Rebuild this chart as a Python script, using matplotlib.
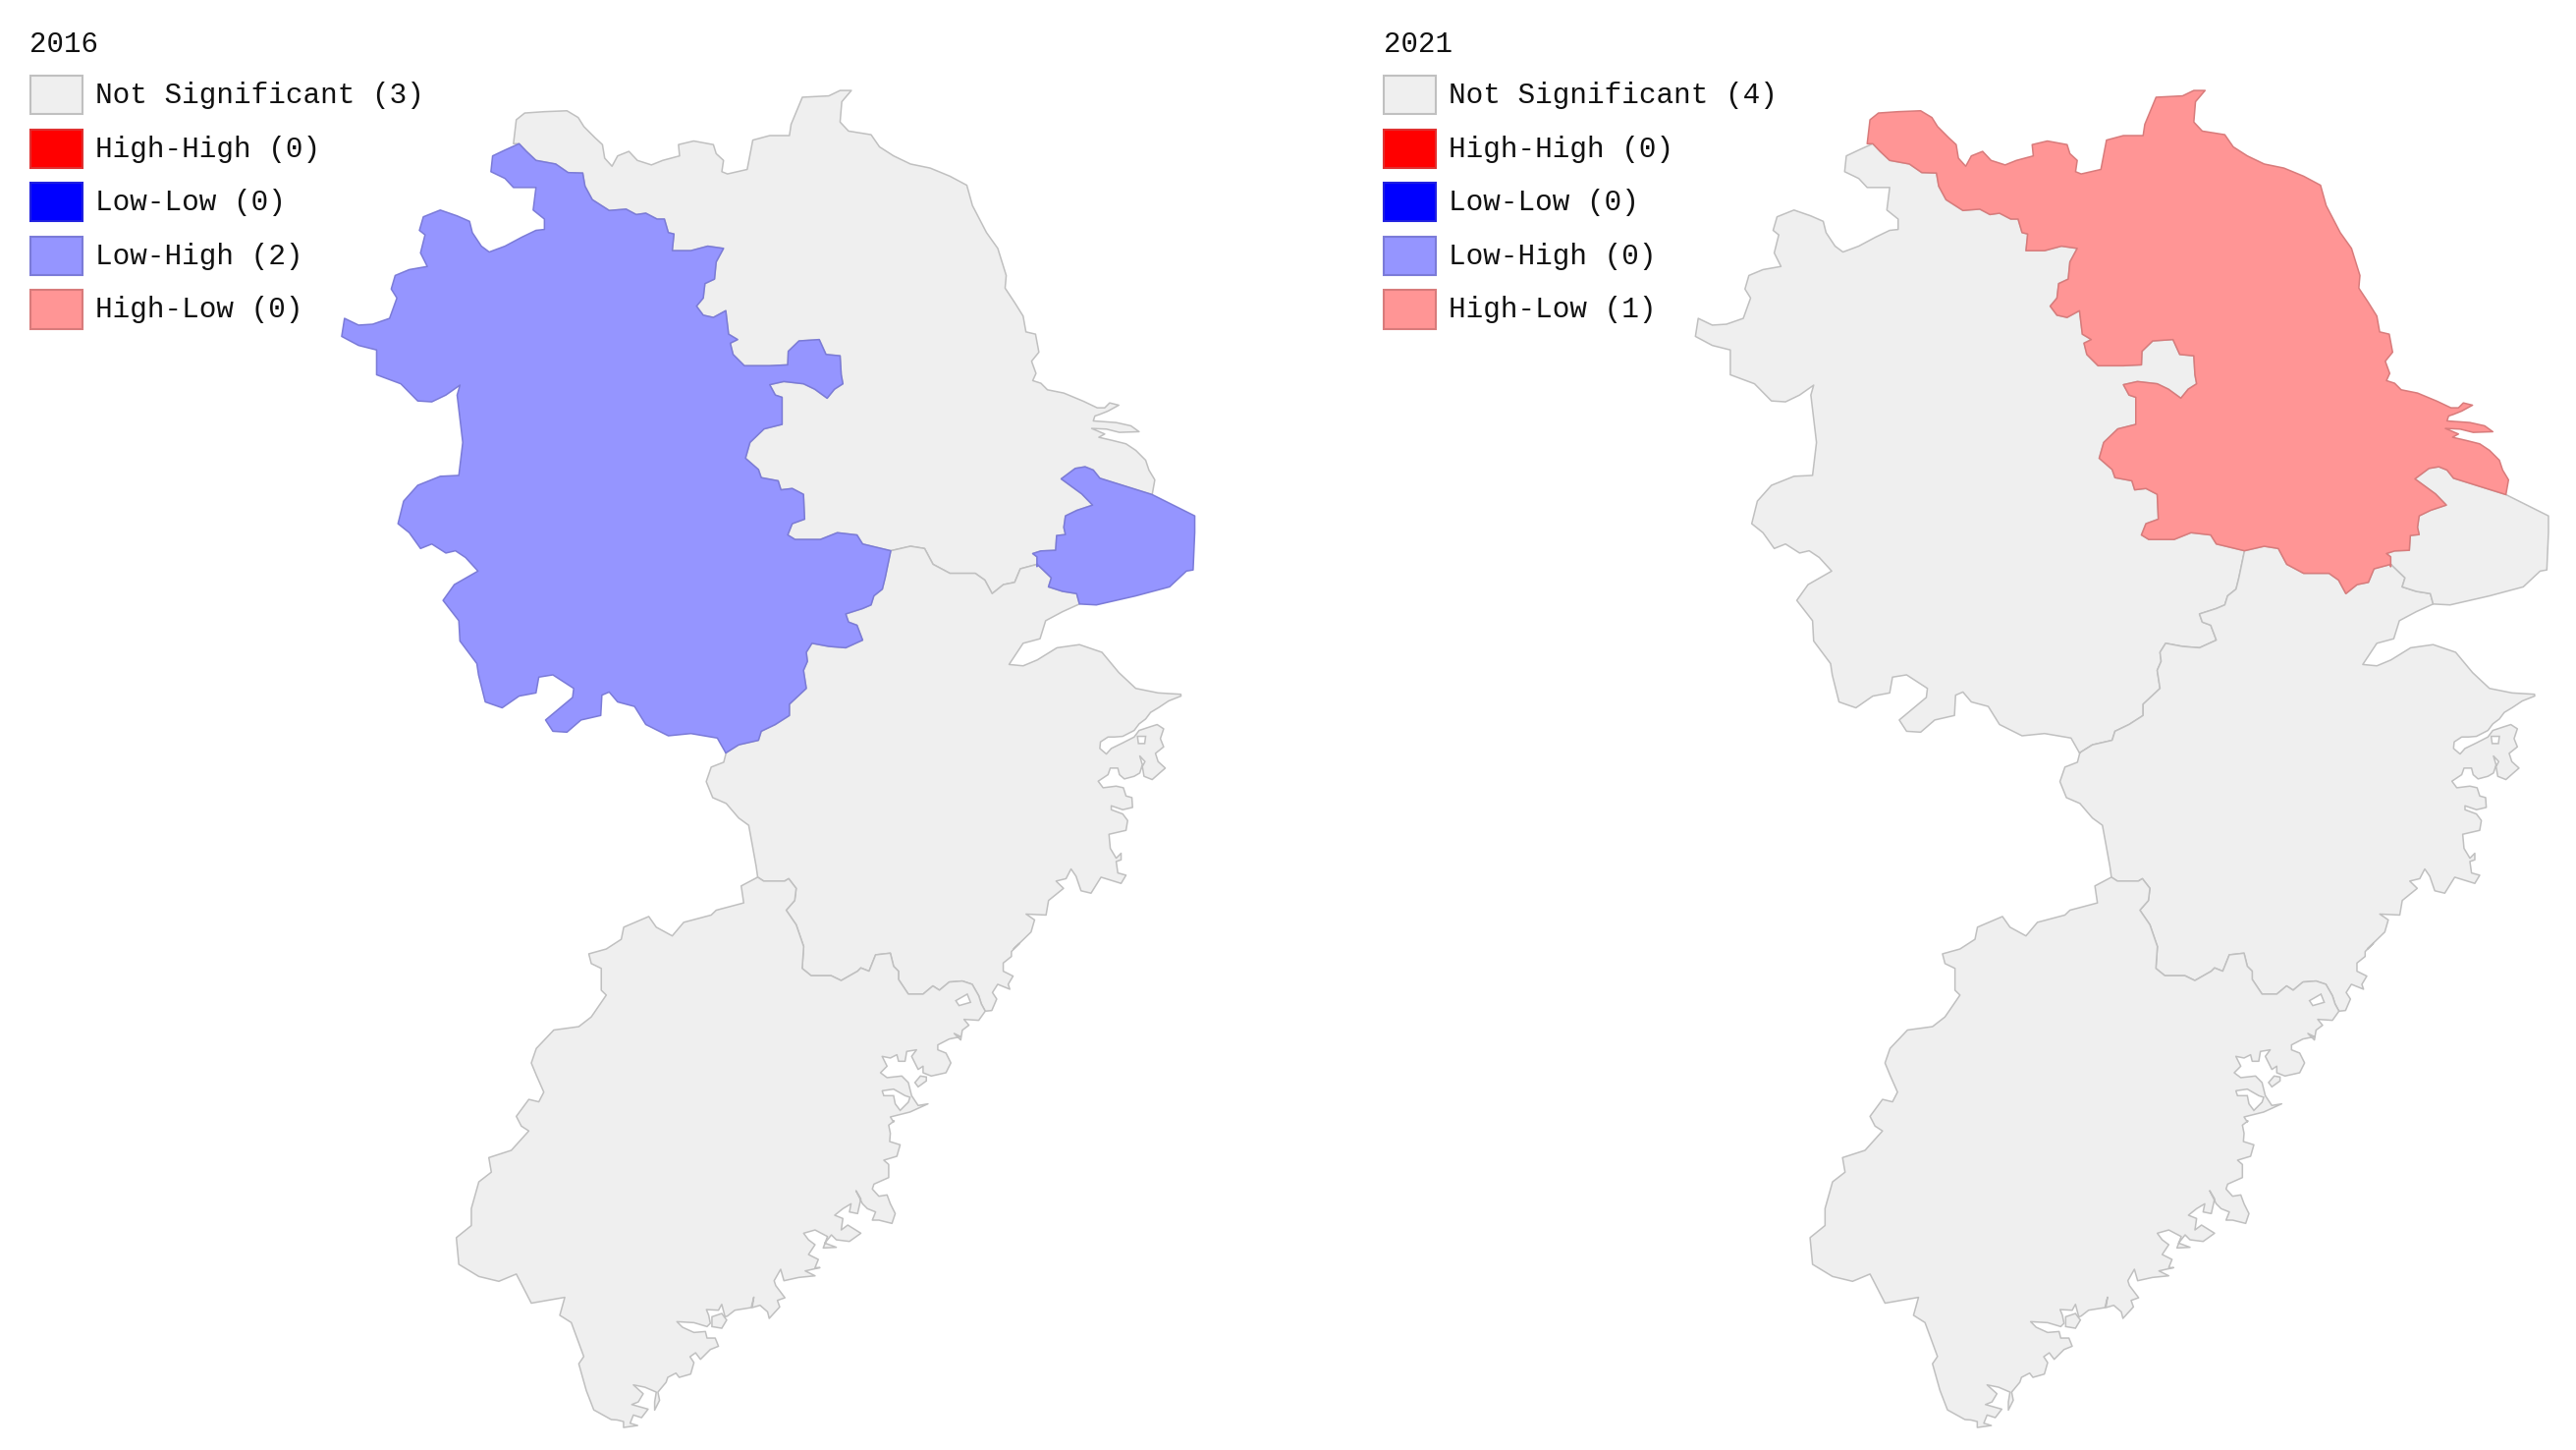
import matplotlib
matplotlib.use('Agg')
import matplotlib.pyplot as plt
from matplotlib.patches import Polygon, Rectangle
import numpy as np

# LISA cluster maps, 2016 vs 2021, province outlines traced by hand
categories = ['Not Significant', 'High-High', 'Low-Low', 'Low-High', 'High-Low']
fills = ['#efefef', '#ff0000', '#0000ff', '#9595ff', '#ff9595']
edges = ['#c0c0c0', '#e03030', '#2020e0', '#7b7bd8', '#d87b7b']
years = ['2016', '2021']
counts_2016 = [3, 0, 0, 2, 0]
counts_2021 = [4, 0, 0, 0, 1]
cluster_2016 = {'Jiangsu': 0, 'Zhejiang': 0, 'Fujian': 0, 'Anhui': 3, 'Shanghai': 3}
cluster_2021 = {'Anhui': 0, 'Zhejiang': 0, 'Fujian': 0, 'Shanghai': 0, 'Jiangsu': 4}

ah_js_border = [(345,168),(358,185),(375,205),(410,213),(432,232),(458,233),(462,262),(475,292),(505,316),(535,313),(553,325),(570,322),(590,335),(603,335),(610,365),(620,368),(617,405),(650,405),(680,395),(708,400),(695,430),(692,468),(675,478),(672,510),(660,528),(672,548),(690,553),(712,538),(717,590),(733,602),(720,610),(725,635),(745,660),(790,660),(822,658),(823,628),(842,605),(878,602),(890,635),(915,638),(917,680),(920,700),(905,712),(892,732),(870,712),(850,700),(815,695),(790,702),(800,725),(812,730),(812,790),(780,800),(755,830),(747,865),(770,890),(775,908),(805,915),(810,935),(830,932),(850,945),(852,1000),(830,1010),(822,1035),(835,1045),(880,1045),(910,1030),(945,1035),(955,1055),(1005,1070)]
ah_zj_border = [(1005,1070),(995,1130),(990,1155),(975,1170),(970,1190),(955,1198),(925,1210),(930,1228),(945,1235),(955,1268),(925,1285),(895,1282),(865,1275),(855,1295),(857,1315),(850,1335),(855,1375),(825,1410),(825,1435),(800,1455),(775,1470),(770,1490),(735,1500),(712,1518)]
ah_west = [(697,1485),(650,1475),(610,1480),(570,1455),(550,1415),(520,1405),(505,1383),(492,1390),(490,1435),(455,1445),(430,1472),(405,1470),(392,1445),(440,1395),(442,1375),(405,1345),(380,1350),(375,1385),(345,1392),(315,1418),(285,1405),(273,1345),(270,1320),(240,1270),(238,1225),(210,1180),(230,1145),(272,1115),(250,1085),(232,1070),(215,1075),(190,1055),(170,1065),(150,1030),(130,1010),(140,960),(165,925),(205,905),(238,903),(245,830),(235,725),(240,703),(215,725),(190,740),(165,738),(135,700),(92,680),(92,625),(60,615),(30,595),(35,555),(60,570),(85,568),(115,555),(128,510),(118,490),(125,460),(150,447),(182,440),(170,410),(178,370),(168,360),(175,330),(205,315),(235,328),(257,340),(262,365),(278,395),(292,408),(320,395),(350,375),(375,360),(390,358),(390,335),(370,315),(375,265),(335,265),(320,245),(295,230),(298,195),(320,182)]
js_coast = [(335,168),(340,115),(355,100),(390,97),(430,95),(450,110),(460,130),(480,155),(493,170),(497,200),(510,218),(520,195),(540,185),(555,205),(580,215),(600,205),(630,195),(628,170),(655,162),(690,170),(695,190),(708,205),(705,230),(715,235),(750,225),(760,160),(790,150),(825,150),(828,125),(848,65),(895,62),(915,50),(935,50),(918,75),(915,120),(930,140),(970,148),(985,175),(1010,195),(1040,213),(1075,222),(1110,240),(1140,260),(1150,305),(1175,365),(1195,400),(1210,460),(1208,488),(1225,520),(1240,550),(1245,585),(1262,590),(1268,630),(1255,650)]
js_yangtze = [(45,0),(35,22),(60,30),(80,50),(130,60),(190,85),(232,105),(255,105),(270,90),(298,97),(265,115),(240,125),(225,130),(220,145),(290,150),(335,160),(360,178),(300,180),(260,170),(215,168),(255,185),(237,195),(280,205),(320,215),(350,235),(380,265),(390,295),(408,325),(400,370)]
js_sh_border = [(400,370),(240,320),(220,295),(195,285),(165,290),(122,322),(185,368),(218,402),(170,418),(135,435),(130,470),(135,492),(108,495),(105,540),(60,542),(35,550),(48,560),(48,590)]
sh_east = [(400,370),(530,435),(530,485),(525,600)]
js_zj_border = [(1265,1100),(1235,1110),(1225,1140),(1205,1145),(1185,1165),(1172,1135),(1155,1120),(1110,1120),(1080,1100),(1065,1065),(1040,1060),(1005,1070)]
sh_zj_border = [(1265,1100),(1290,1130),(1285,1150),(1310,1160),(1335,1165),(1340,1188)]
sh_coast = [(1340,1188),(1370,1190),(1440,1170),(1500,1150),(1530,1115)]
zj_bay = [(1340,1188),(1310,1205),(1280,1225),(1270,1265),(1240,1275),(1215,1322),(1240,1325),(1265,1312),(1300,1285),(1340,1278),(1380,1295),(1410,1340),(1440,1375),(1480,1385),(1520,1388)]

zj_ningbo = [(608,85),(570,100),(540,120),(515,135),(500,155),(480,170),(465,190),(430,208),(405,210),(385,210),(362,225),(360,245),(380,262),(395,245),(430,228),(465,210),(480,190),(510,180),(535,172),(555,185),(545,215),(555,240),(530,260),(538,285),(560,305),(545,318),(520,340),(495,330),(490,300),(498,285),(482,268),(490,295),(482,320),(465,330),(435,338),(420,325),(415,305),(392,305),(385,325),(355,345),(370,365),(410,360),(432,365),(440,390),(458,395),(460,425),(430,432),(395,420),(395,432),(430,445),(445,465),(440,495),(388,507),(392,550),(410,580),(425,565),(425,585),(410,590),(415,625),(440,632),(425,657)]
zj_coast_mid = [(1355,392),(1335,425),(1315,420),(1305,390),(1295,375),(1285,395),(1265,400),(1280,415),(1250,440),(1245,470),(1205,468),(1222,480),(1215,505),(1180,540)]
zj_wenzhou = [(535,0),(510,25),(510,40),(485,60),(485,85),(515,100),(500,125),(505,140),(468,125),(452,150),(465,170),(450,205),(430,207)]
zj_west = [(605,135),(600,155),(575,165),(565,195),(578,228),(605,240),(630,270),(650,285),(658,330),(665,370),(668,392)]
zj_fj_border = [(668,392),(680,400),(722,400),(730,395),(745,415),(742,440),(725,460),(745,490),(760,535),(757,580),(775,595),(815,595),(835,605)]
zj_fj_border_east = [(40,85),(50,75),(75,85),(95,35),(140,30),(150,70),(165,85),(165,110),(195,155),(240,155),(270,130),(290,143),(320,118),(360,115),(390,125),(410,160),(418,185),(430,207)]

fj_ningde = [(430,207),(410,235),(365,232),(380,250),(360,265),(355,295),(335,275),(355,285),(320,292),(285,310),(285,325),(310,335),(325,365),(310,395),(265,405),(240,395),(240,375),(225,385),(205,345),(220,325),(190,330),(185,360),(165,360),(160,340),(140,350),(115,345),(130,375),(110,395),(130,410),(175,405),(195,425),(205,465),(225,495),(255,490),(200,515),(140,530),(150,545)]
fj_fuzhou = [(392,32),(375,45),(380,70),(378,95),(410,105),(400,140),(360,152),(375,165),(375,205),(330,225),(325,240),(345,262),(370,258),(380,285),(395,315),(385,345),(365,340),(345,335),(325,335),(335,310),(310,300),(295,285),(275,245),(290,270),(280,315),(255,310),(260,285),(235,300),(210,320),(235,330),(230,365),(250,350),(290,375),(255,400),(215,395),(200,380),(180,405),(215,418),(175,420),(188,385),(150,365),(115,375),(130,395),(150,410),(130,440),(160,455),(150,480),(165,480),(120,490),(150,505),(100,510),(55,520),(45,485),(25,520),(30,535)]
fj_xiamen = [(538,92),(515,100),(522,120),(490,155),(485,135),(462,115),(438,122),(443,90),(435,122),(385,130),(362,148),(355,150),(345,112),(335,130),(298,128),(305,145),(310,170),(300,180),(260,168),(208,165),(225,182),(260,198),(295,195),(300,215),(325,215),(335,240),(310,250),(280,280),(265,260),(248,272),(260,290),(250,325),(215,335),(205,322),(180,335),(175,350),(150,380),(155,405),(140,435),(140,410),(145,380),(110,365),(75,358),(105,385),(90,410),(70,418),(120,432),(100,458),(75,450),(65,475),(88,482),(45,488),(45,470),(25,465)]
fj_west = [(375,1510),(340,1490),(325,1450),(310,1395),(320,1380),(295,1310),(272,1295),(282,1258),(215,1270),(185,1210),(150,1225),(110,1215),(70,1190),(65,1135),(95,1110),(95,1075),(110,1020),(135,1000),(130,970),(175,955),(210,915),(195,905),(185,885),(210,850),(230,855),(240,835),(225,800),(215,775),(225,745),(260,707),(310,700),(335,680),(365,635),(355,625),(355,580),(335,570),(330,550),(365,540),(395,520),(400,495),(450,473),(465,495),(497,513),(520,485),(575,470),(585,460),(640,445),(635,410)]

# little white inlets on the coast, and islands
zj_hole = [(475,208),(500,208),(497,230),(478,230)]
zj_inlet = [(340,175),(375,155),(385,180),(350,190)]
fj_inlet = [(115,450),(150,445),(185,465),(200,470),(195,485),(170,510),(155,490),(150,465),(120,465)]
fj_island = [(250,408),(232,405),(215,425),(225,438),(250,420)]
fj_islet = [(315,150),(345,140),(360,160),(345,185),(315,180)]


def north(pts):
    a = np.array(pts, dtype=float)
    return np.column_stack([197.7 + a[:, 0] * 0.3428, 41.3 + a[:, 1] * 0.2745])


def south(pts):
    a = np.array(pts, dtype=float)
    return np.column_stack([258 + a[:, 0] * 0.3042, 417.9 + a[:, 1] * 0.2951])


def crop(pts, x0, y0):
    a = np.array(pts, dtype=float)
    return np.column_stack([(x0 + a[:, 0] / 3) / 1.673, (y0 + a[:, 1] / 3) / 1.673])


ningbo = (1000, 680)
ningde = (860, 960)
yangtze = (1040, 380)
fuzhou = (780, 1130)
xiamen = (620, 1290)

js_sh = crop(js_sh_border, *yangtze)
regions = {
    'Anhui': np.vstack([north(ah_js_border), north(ah_zj_border), north(ah_west)]),
    'Jiangsu': np.vstack([north(js_coast), crop(js_yangtze, *yangtze), js_sh, north(js_zj_border), north(ah_js_border)[::-1]]),
    'Shanghai': np.vstack([js_sh, north(sh_zj_border), north(sh_coast), crop(sh_east, *yangtze)[::-1]]),
    'Zhejiang': np.vstack([north(js_zj_border)[::-1], north(sh_zj_border), north(zj_bay), crop(zj_ningbo, *ningbo),
                           south(zj_coast_mid), crop(zj_wenzhou, *ningde),
                           crop(zj_fj_border_east, *ningde)[::-1], south(zj_fj_border)[::-1],
                           south(zj_west)[::-1], north(ah_zj_border)[::-1]]),
    'Fujian': np.vstack([south(zj_fj_border), crop(zj_fj_border_east, *ningde), crop(fj_ningde, *ningde),
                         crop(fj_fuzhou, *fuzhou), crop(fj_xiamen, *xiamen), south(fj_west)]),
}
inlets = [crop(zj_hole, *ningbo), crop(zj_inlet, *ningde), crop(fj_inlet, *ningde)]
islands = [crop(fj_island, *ningde), crop(fj_islet, *xiamen)]

fig = plt.figure(figsize=(26.23, 14.76), dpi=100)
ax1 = fig.add_axes([0, 0, 824 / 1568, 1])
ax2 = fig.add_axes([824 / 1568, 0, 744 / 1568, 1])
ax1.set_xlim(0, 824)
ax2.set_xlim(0, 744)


def draw_panel(ax, year, counts, cluster):
    ax.set_ylim(882, 0)
    ax.axis('off')
    for name in sorted(cluster, key=lambda k: cluster[k]):
        c = cluster[name]
        ax.add_patch(Polygon(regions[name], closed=True, facecolor=fills[c], edgecolor=edges[c], linewidth=1.1, joinstyle='round'))
    for pts in inlets:
        ax.add_patch(Polygon(pts, closed=True, facecolor='white', edgecolor=edges[0], linewidth=1.1))
    for pts in islands:
        ax.add_patch(Polygon(pts, closed=True, facecolor=fills[0], edgecolor=edges[0], linewidth=1.1))
    ax.text(18, 27, year, fontsize=21, family='Liberation Mono', va='center', color='#111111')
    for i, cat in enumerate(categories):
        y = 46 + i * 32.6
        ax.add_patch(Rectangle((18.5, y), 31.5, 23.5, facecolor=fills[i], edgecolor=edges[i], linewidth=1.5))
        ax.text(58, y + 12, '%s (%d)' % (cat, counts[i]), fontsize=21.2, family='Liberation Mono', va='center', color='#111111')


draw_panel(ax1, years[0], counts_2016, cluster_2016)
draw_panel(ax2, years[1], counts_2021, cluster_2021)

fig.savefig('out.png', dpi=100)
